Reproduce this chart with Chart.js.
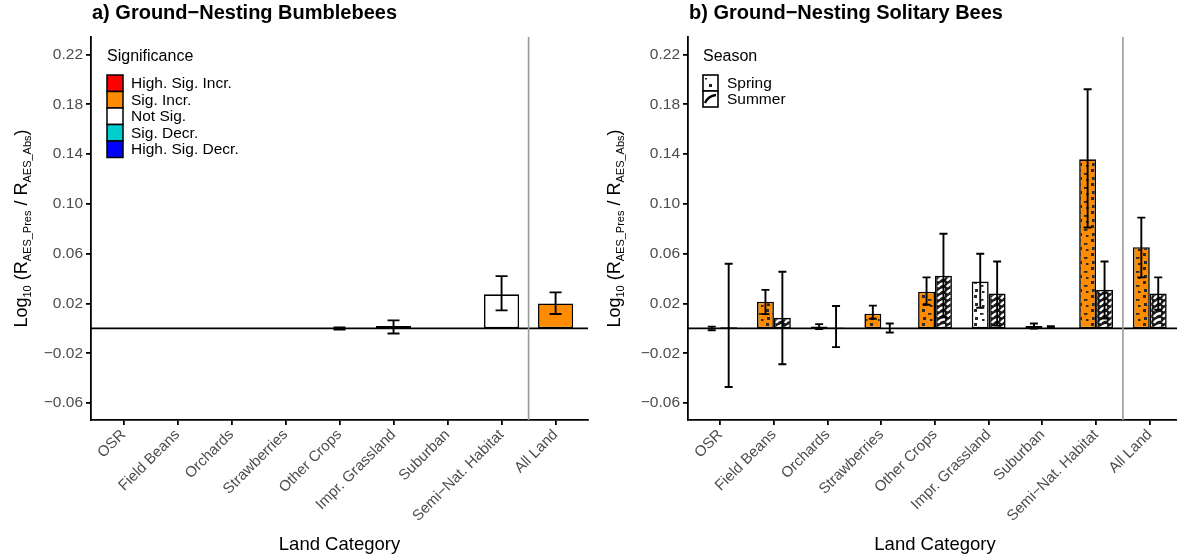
<!DOCTYPE html>
<html>
<head>
<meta charset="utf-8">
<script src="https://cdn.jsdelivr.net/npm/chart.js@4"></script>
<style>
  html, body { margin: 0; padding: 0; background: #fff; overflow: hidden; width: 1177px; height: 558px; }
  .panel { position: absolute; top: 0; width: 595px; height: 558px; }
</style>
</head>
<body>
<div class="panel" style="left:0"><canvas id="left" width="595" height="558"></canvas></div>
<div class="panel" style="left:595px"><canvas id="right" width="595" height="558"></canvas></div>
<script>
// ---- data ----
const categories = ['OSR', 'Field Beans', 'Orchards', 'Strawberries', 'Other Crops',
  'Impr. Grassland', 'Suburban', 'Semi\u2212Nat. Habitat', 'All Land'];
const yTicks = [-0.06, -0.02, 0.02, 0.06, 0.10, 0.14, 0.18, 0.22];

// a) bumblebees
const bumbleValues = [null, null, null, null, null, 0.002, null, 0.0274, 0.0201];
const bumbleLower  = [null, null, null, null, -0.0008, -0.004, null, 0.0145, 0.0116];
const bumbleUpper  = [null, null, null, null, 0.0008, 0.0065, null, 0.042, 0.029];
const bumbleSig    = ['ns', 'ns', 'ns', 'ns', 'ns', 'ns', 'ns', 'ns', 'inc'];

// b) solitary bees, spring
const springValues = [null, 0.0215, 0.0015, 0.0118, 0.0295, 0.0376, 0.002, 0.1358, 0.0652];
const springLower  = [-0.0015, 0.0115, -0.0005, 0.0078, 0.019, 0.0166, 0.0, 0.081, 0.041];
const springUpper  = [0.0015, 0.031, 0.0035, 0.0183, 0.041, 0.060, 0.004, 0.192, 0.089];
const springSig    = ['ns', 'inc', 'ns', 'inc', 'inc', 'ns', 'ns', 'inc', 'inc'];

// b) solitary bees, summer
const summerValues = [0.001, 0.0085, 0.0008, null, 0.0424, 0.028, null, 0.031, 0.028];
const summerLower  = [-0.047, -0.0287, -0.015, -0.0032, 0.009, 0.0023, 0.0003, 0.008, 0.015];
const summerUpper  = [0.052, 0.0455, 0.018, 0.004, 0.076, 0.0537, 0.0018, 0.0537, 0.041];
const summerSig    = ['ns', 'ns', 'ns', 'ns', 'ns', 'ns', 'ns', 'ns', 'ns'];

const sigLabels = ['High. Sig. Incr.', 'Sig. Incr.', 'Not Sig.', 'Sig. Decr.', 'High. Sig. Decr.'];
const sigKeys   = ['hinc', 'inc', 'ns', 'dec', 'hdec'];
const sigColors = { hinc: '#FF0000', inc: '#FF8C00', ns: '#FFFFFF', dec: '#00CDCD', hdec: '#0000FF' };
const seasons = ['Spring', 'Summer'];

const FONT = "'Liberation Sans', Arial, sans-serif";
const TICK_GREY = '#4d4d4d';

// ---- patterns ----
function dotPattern(fill) {
  const c = document.createElement('canvas');
  c.width = 13; c.height = 14;
  const g = c.getContext('2d');
  g.fillStyle = fill; g.fillRect(0, 0, 13, 14);
  g.fillStyle = '#2a2a2a';
  g.fillRect(2, 1, 3, 3);
  g.fillRect(8, 5, 3.5, 1.8);
  g.fillRect(3, 9, 3, 3);
  g.fillRect(10, 11, 2.5, 2);
  return g.createPattern(c, 'repeat');
}

function stripePattern(fill) {
  const c = document.createElement('canvas');
  c.width = 9; c.height = 6;
  const g = c.getContext('2d');
  g.fillStyle = '#1a1a1a'; g.fillRect(0, 0, 9, 6);
  g.strokeStyle = fill; g.lineWidth = 2.4;
  g.beginPath(); g.moveTo(1, 5); g.quadraticCurveTo(3, 1.5, 8, 1.3); g.stroke();
  return g.createPattern(c, 'repeat');
}

function toPoints(values) {
  return values.map((v, i) => ({ x: i, y: v }));
}

function fmtTick(v) {
  return (v < 0 ? '\u2212' : '') + Math.abs(v).toFixed(2);
}

// ---- drawing helpers ----
function drawYTitle(ctx, cx, cy) {
  const parts = [['Log', 18, 0], ['10', 11, 4], [' (R', 18, 0], ['AES_Pres', 11, 4],
    [' / R', 18, 0], ['AES_Abs', 11, 4], [')', 18, 0]];
  ctx.save();
  ctx.translate(cx, cy);
  ctx.rotate(-Math.PI / 2);
  ctx.fillStyle = '#000';
  ctx.textBaseline = 'alphabetic';
  ctx.textAlign = 'left';
  let total = 0;
  parts.forEach(p => { ctx.font = p[1] + 'px ' + FONT; total += ctx.measureText(p[0]).width; });
  let x = -total / 2;
  parts.forEach(p => {
    ctx.font = p[1] + 'px ' + FONT;
    ctx.fillText(p[0], x, 6 + p[2]);
    x += ctx.measureText(p[0]).width;
  });
  ctx.restore();
}

function legendSignificance(ctx, a) {
  const x = a.left + 16, y0 = 75, h = 16.5, w = 16;
  ctx.save();
  ctx.fillStyle = '#000';
  ctx.font = '16px ' + FONT;
  ctx.textAlign = 'left'; ctx.textBaseline = 'middle';
  ctx.fillText('Significance', x, 57);
  ctx.font = '15.5px ' + FONT;
  sigKeys.forEach((k, i) => {
    const y = y0 + i * h;
    ctx.fillStyle = sigColors[k];
    ctx.fillRect(x, y, w, h);
    ctx.strokeStyle = '#000'; ctx.lineWidth = 1.5;
    ctx.strokeRect(x, y, w, h);
    ctx.fillStyle = '#000';
    ctx.fillText(sigLabels[i], x + 24, y + h / 2 + 0.5);
  });
  ctx.restore();
}

function legendSeason(ctx, a) {
  const x = a.left + 15, y0 = 75, h = 16, w = 15;
  ctx.save();
  ctx.fillStyle = '#000';
  ctx.font = '16px ' + FONT;
  ctx.textAlign = 'left'; ctx.textBaseline = 'middle';
  ctx.fillText('Season', x, 57);
  ctx.font = '15.5px ' + FONT;
  seasons.forEach((s, i) => {
    const y = y0 + i * h;
    ctx.fillStyle = '#fff';
    ctx.fillRect(x, y, w, h);
    ctx.strokeStyle = '#000'; ctx.lineWidth = 1.6;
    ctx.strokeRect(x, y, w, h);
    ctx.fillStyle = '#222';
    if (i === 0) {
      ctx.fillRect(x + 6, y + 9, 3, 3);
      ctx.fillRect(x + 2, y + 3, 2, 1.5);
    } else {
      ctx.lineWidth = 2.4;
      ctx.beginPath(); ctx.moveTo(x + 2, y + 12); ctx.quadraticCurveTo(x + 5, y + 5, x + 13, y + 4); ctx.stroke();
    }
    ctx.fillStyle = '#000';
    ctx.fillText(s, x + 24, y + h / 2 + 0.5);
  });
  ctx.restore();
}

const legends = { sig: legendSignificance, season: legendSeason };

const decor = {
  id: 'decor',
  beforeDatasetsDraw(chart) {
    const o = chart.options.plugins.decor;
    const { ctx, chartArea: a } = chart;
    const xs = chart.scales.x, ys = chart.scales.y;
    ctx.save();
    // zero line
    ctx.strokeStyle = '#000'; ctx.lineWidth = 1.8;
    const y0 = ys.getPixelForValue(0);
    ctx.beginPath(); ctx.moveTo(a.left, y0); ctx.lineTo(a.right, y0); ctx.stroke();
    // separator before "All Land"
    ctx.strokeStyle = '#9a9a9a'; ctx.lineWidth = 1.6;
    const xv = xs.getPixelForValue(o.separator);
    ctx.beginPath(); ctx.moveTo(xv, a.top); ctx.lineTo(xv, a.bottom); ctx.stroke();
    ctx.restore();
  },
  afterDatasetsDraw(chart) {
    const o = chart.options.plugins.decor;
    const { ctx } = chart;
    const ys = chart.scales.y;
    ctx.save();
    ctx.strokeStyle = '#000'; ctx.lineWidth = 1.9;
    chart.data.datasets.forEach((ds, di) => {
      const meta = chart.getDatasetMeta(di);
      ds.lower.forEach((lo, i) => {
        const hi = ds.upper[i];
        if (lo === null || hi === null) return;
        const x = meta.data[i].x;
        const yl = ys.getPixelForValue(lo), yh = ys.getPixelForValue(hi);
        const w = o.whisker / 2;
        ctx.beginPath();
        ctx.moveTo(x, yl); ctx.lineTo(x, yh);
        ctx.moveTo(x - w, yl); ctx.lineTo(x + w, yl);
        ctx.moveTo(x - w, yh); ctx.lineTo(x + w, yh);
        ctx.stroke();
      });
    });
    ctx.restore();
  },
  afterDraw(chart) {
    const o = chart.options.plugins.decor;
    const { ctx, chartArea: a } = chart;
    ctx.save();
    // panel title
    ctx.fillStyle = '#000';
    ctx.font = 'bold 20px ' + FONT;
    ctx.textAlign = 'left'; ctx.textBaseline = 'middle';
    ctx.fillText(o.title, a.left + 1, 13);
    // x axis title
    ctx.font = '18.5px ' + FONT;
    ctx.textAlign = 'center';
    ctx.fillText('Land Category', (a.left + a.right) / 2, 545);
    ctx.restore();
    drawYTitle(ctx, o.yTitleX, (a.top + a.bottom) / 2);
    legends[o.legend](ctx, a);
  }
};

function makeChart(id, datasets, opts) {
  return new Chart(document.getElementById(id), {
    type: 'bar',
    data: { datasets },
    options: {
      responsive: false,
      animation: false,
      devicePixelRatio: 1,
      layout: { padding: { left: 0, top: 37, right: opts.padRight, bottom: 0 } },
      datasets: { bar: { categoryPercentage: opts.catPct, barPercentage: 1, borderColor: '#000', borderWidth: 1.6, borderSkipped: false } },
      scales: {
        x: {
          type: 'linear', min: -0.6, max: 8.6, offset: false,
          afterBuildTicks: ax => { ax.ticks = categories.map((c, i) => ({ value: i })); },
          afterFit: ax => { ax.height = 138; ax.paddingLeft = 0; ax.paddingRight = 0; },
          ticks: { color: TICK_GREY, font: { size: 15, family: FONT }, minRotation: 45, maxRotation: 45,
            autoSkip: false, padding: 1, callback: (v, i) => categories[i] },
          grid: { display: true, drawOnChartArea: false, offset: false, tickLength: 5, color: '#000', lineWidth: 1.8 },
          border: { display: true, color: '#000', width: 1.8 }
        },
        y: {
          min: -0.0735, max: 0.234,
          afterBuildTicks: ax => { ax.ticks = yTicks.map(v => ({ value: v })); },
          afterFit: ax => { ax.width = opts.yWidth; ax.paddingTop = 0; ax.paddingBottom = 0; },
          ticks: { color: TICK_GREY, font: { size: 15.5, family: FONT }, padding: 3, callback: v => fmtTick(v) },
          grid: { display: true, drawOnChartArea: false, tickLength: 5, color: '#000', lineWidth: 1.8 },
          border: { display: true, color: '#000', width: 1.8 }
        }
      },
      plugins: {
        legend: { display: false },
        tooltip: { enabled: false },
        decor: { title: opts.title, whisker: opts.whisker, separator: 7.5, yTitleX: opts.yTitleX, legend: opts.legend }
      }
    },
    plugins: [decor]
  });
}

makeChart('left', [{
  label: 'Bumblebees',
  data: toPoints(bumbleValues),
  backgroundColor: bumbleSig.map(s => sigColors[s]),
  lower: bumbleLower, upper: bumbleUpper
}], { title: 'a) Ground\u2212Nesting Bumblebees', whisker: 12, catPct: 0.65, yWidth: 91, padRight: 7, yTitleX: 21, legend: 'sig' });

makeChart('right', [{
  label: 'Spring',
  data: toPoints(springValues),
  backgroundColor: springSig.map(s => dotPattern(sigColors[s])),
  lower: springLower, upper: springUpper
}, {
  label: 'Summer',
  data: toPoints(summerValues),
  backgroundColor: summerSig.map(s => stripePattern(sigColors[s])),
  lower: summerLower, upper: summerUpper
}], { title: 'b) Ground\u2212Nesting Solitary Bees', whisker: 8, catPct: 0.63, yWidth: 93, padRight: 8, yTitleX: 19, legend: 'season' });
</script>
</body>
</html>
